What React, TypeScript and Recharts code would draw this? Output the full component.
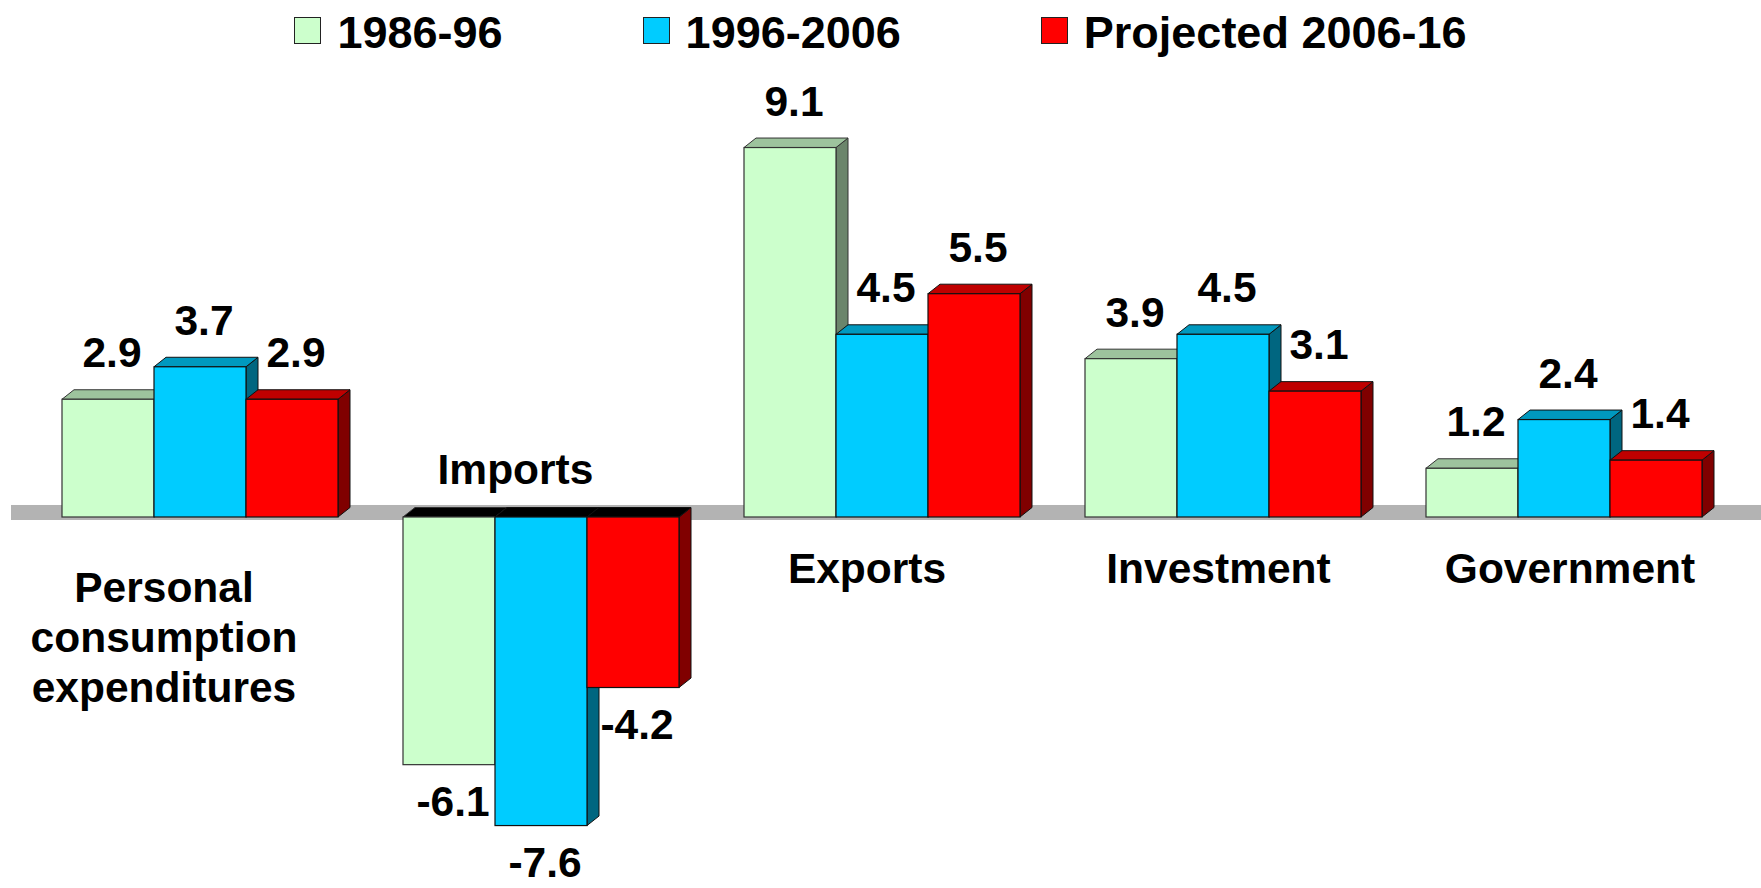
import React from 'react';
import { BarChart, Bar, XAxis, YAxis, Legend, LabelList, ReferenceArea } from 'recharts';

// Category names and the three periods' growth rates
const categories = ['Personal consumption expenditures', 'Imports', 'Exports', 'Investment', 'Government'];
const period1986to96 = [2.9, -6.1, 9.1, 3.9, 1.2];
const period1996to2006 = [3.7, -7.6, 4.5, 4.5, 2.4];
const projected2006to16 = [2.9, -4.2, 5.5, 3.1, 1.4];
const seriesNames = ['1986-96', '1996-2006', 'Projected 2006-16'];

const data = categories.map((name, i) => ({
  name,
  p1: period1986to96[i],
  p2: period1996to2006[i],
  p3: projected2006to16[i],
}));

const series = [
  { key: 'p1', front: '#CCFFCC', top: '#9DC39D', side: '#6B856B', stroke: '#333333' },
  { key: 'p2', front: '#00CCFF', top: '#0099BF', side: '#006680', stroke: '#111111' },
  { key: 'p3', front: '#FF0000', top: '#BF0000', side: '#800000', stroke: '#111111' },
];

const W = 1761;
const H = 888;
const MARGIN = { top: 111, right: 26.5, bottom: 0, left: 29.5 };
const X_AXIS_H = 5.6;
const Y_MIN = -9;
const Y_MAX = 10;
const PLOT_H = H - MARGIN.top - MARGIN.bottom - X_AXIS_H;
const ZERO_Y = MARGIN.top + (Y_MAX / (Y_MAX - Y_MIN)) * PLOT_H;

const DX = 12;
const DY = 9.5;
const FONT = '"Liberation Sans", Arial, sans-serif';
const LABEL_SIZE = 42.5;

const makeShape = (s: typeof series[number]) => (props: any) => {
  const { x, y, width, height, payload } = props;
  const top = Math.min(y, y + height);
  const bottom = Math.max(y, y + height);
  const neg = payload && payload[s.key] < 0;
  const r = x + width;
  return (
    <g>
      <polygon
        points={`${r},${top} ${r + DX},${top - DY} ${r + DX},${bottom - DY} ${r},${bottom}`}
        fill={s.side}
        stroke={s.stroke}
        strokeWidth={1}
      />
      <polygon
        points={`${x},${top} ${x + DX},${top - DY} ${r + DX},${top - DY} ${r},${top}`}
        fill={neg ? '#000000' : s.top}
        stroke={s.stroke}
        strokeWidth={1}
      />
      <rect x={x} y={top} width={width} height={bottom - top} fill={s.front} stroke={s.stroke} strokeWidth={1.2} />
    </g>
  );
};

const ValueLabel = (props: any) => {
  const { x, y, width, height, value } = props;
  const top = Math.min(y, y + height);
  const bottom = Math.max(y, y + height);
  const ty = value < 0 ? bottom + 51 : top - 32;
  return (
    <text x={x + width / 2 + 4} y={ty} textAnchor="middle" fontFamily={FONT} fontWeight="bold" fontSize={LABEL_SIZE} fill="#000">
      {Number(value).toFixed(1)}
    </text>
  );
};

const CategoryTick = (props: any) => {
  const { x, index, payload } = props;
  const cx = x + (index - 2) * 10.5 - 15;
  const words: string[] = String(payload.value).split(' ');
  const allNeg = period1986to96[index] < 0 && period1996to2006[index] < 0 && projected2006to16[index] < 0;
  const firstY = allNeg ? ZERO_Y - 33 : words.length > 1 ? ZERO_Y + 85 : ZERO_Y + 66;
  return (
    <text textAnchor="middle" fontFamily={FONT} fontWeight="bold" fontSize={LABEL_SIZE} fill="#000">
      {words.map((w, i) => (
        <tspan key={w} x={cx} y={firstY + i * 50}>
          {w}
        </tspan>
      ))}
    </text>
  );
};

const LegendContent = () => (
  <div style={{ display: 'flex', justifyContent: 'center', alignItems: 'center', gap: 140, height: 44 }}>
    {series.map((s, i) => (
      <div key={s.key} style={{ display: 'flex', alignItems: 'center' }}>
        <div
          style={{
            width: 27,
            height: 27,
            boxSizing: 'border-box',
            background: s.front,
            border: '1.5px solid #222',
            marginRight: 16,
            position: 'relative',
            top: -2,
          }}
        />
        <span style={{ fontFamily: FONT, fontWeight: 'bold', fontSize: 45, lineHeight: '44px', color: '#000', whiteSpace: 'nowrap' }}>
          {seriesNames[i]}
        </span>
      </div>
    ))}
  </div>
);

const FloorShape = (props: any) => {
  const { x, y, width, height } = props;
  return <rect x={x - 18.5} y={y} width={width + 18.5 + MARGIN.right} height={height} fill="#B3B3B3" />;
};

export default function App() {
  return (
    <div style={{ position: 'absolute', left: 0, top: 0, width: W, height: H, background: '#fff' }}>
      <BarChart width={W} height={H} data={data} margin={MARGIN} barCategoryGap={32.5} barGap={0}>
        <ReferenceArea y1={-0.074} y2={0.296} ifOverflow="visible" shape={FloorShape} zIndex={-10} />
        <XAxis dataKey="name" height={X_AXIS_H} axisLine={false} tickLine={false} interval={0} tick={CategoryTick} />
        <YAxis hide domain={[Y_MIN, Y_MAX]} />
        <Legend
          verticalAlign="middle"
          align="center"
          wrapperStyle={{ top: 10.7, left: 0, width: W, height: 44 }}
          content={LegendContent}
        />
        {series.map((s, i) => (
          <Bar key={s.key} dataKey={s.key} name={seriesNames[i]} isAnimationActive={false} shape={makeShape(s)}>
            <LabelList dataKey={s.key} content={ValueLabel} />
          </Bar>
        ))}
      </BarChart>
    </div>
  );
}
